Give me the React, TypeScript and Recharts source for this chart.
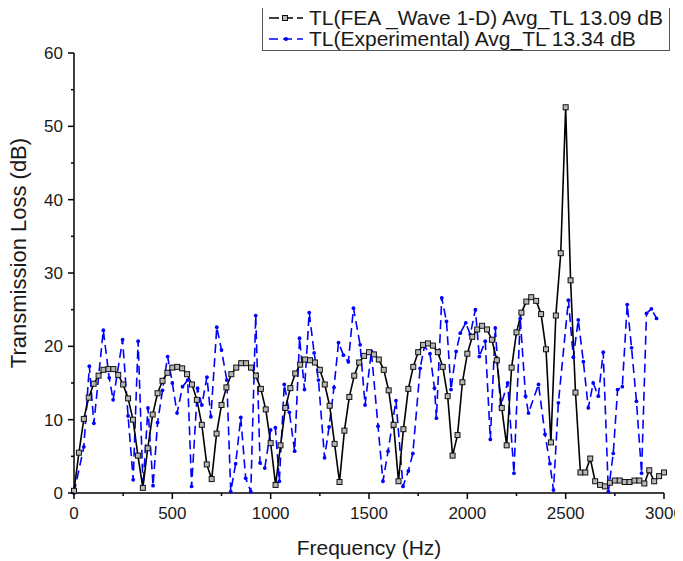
import React from 'react';
import { LineChart, Line, XAxis, YAxis, Legend, Label } from 'recharts';

// FEA (1-D wave) transmission loss, one value every 25 Hz from 0 to 3000 Hz
const feaTL = [
  0.3, 5.5, 10.1, 13.0, 14.9, 16.0, 16.8, 16.9, 16.9, 16.1, 14.8, 12.9, 10.0, 5.1, 0.7,
  6.1, 10.7, 13.6, 15.3, 16.4, 17.1, 17.2, 17.0, 16.2, 14.8, 12.7, 9.3, 3.9, 1.9,
  8.1, 12.0, 14.4, 16.2, 17.1, 17.7, 17.7, 17.1, 16.0, 14.2, 11.4, 6.8, 1.1,
  6.5, 11.6, 14.3, 16.3, 17.5, 18.2, 18.1, 17.8, 16.8, 14.8, 11.9, 6.7, 1.5,
  8.5, 13.1, 16.0, 17.8, 18.7, 19.2, 18.9, 18.2, 16.8, 14.0, 9.3, 1.6,
  8.7, 14.2, 17.2, 19.2, 20.2, 20.4, 20.1, 19.2, 17.2, 13.2, 5.1,
  7.9, 15.1, 19.0, 21.3, 22.3, 22.8, 22.3, 20.9, 18.1, 11.6, 6.5,
  17.1, 21.9, 24.6, 26.1, 26.7, 26.2, 24.4, 19.6, 6.9,
  24.2, 32.7, 52.6, 29.0, 13.7, 2.8, 2.8, 4.7, 1.6, 1.1, 0.9, 1.4, 1.7, 1.7,
  1.5, 1.5, 1.7, 1.7, 1.3, 3.1, 1.6, 2.3, 2.8,
];
const feaFreq = feaTL.map((_, i) => i * 25);

// experimental transmission loss
const expFreq = [
  0, 50, 78, 101, 149, 179, 199, 247, 275, 301, 326, 351, 376, 402, 425, 450, 476, 500,
  524, 552, 578, 598, 628, 650, 676, 696, 726, 750, 777, 797, 822, 848, 873, 899, 924,
  946, 970, 1000, 1024, 1044, 1069, 1095, 1122, 1147, 1172, 1196, 1221, 1243, 1274,
  1297, 1322, 1345, 1370, 1395, 1421, 1455, 1480, 1512, 1546, 1571, 1597, 1637, 1673,
  1700, 1723, 1760, 1782, 1810, 1833, 1843, 1870, 1894, 1917, 1943, 1964, 1992, 2015,
  2041, 2061, 2091, 2117, 2142, 2169, 2205, 2237, 2269, 2296, 2311, 2362, 2395, 2420,
  2438, 2463, 2514, 2539, 2564, 2590, 2615, 2640, 2666, 2691, 2717, 2742, 2764, 2788,
  2813, 2835, 2860, 2886, 2911, 2936, 2962,
];
const expTL = [
  0, 6.3, 17.3, 9.5, 22.2, 15.7, 12.7, 20.9, 10.5, 1.8, 20.7, 0.9, 11.6, 1.0, 9.6, 14.0, 18.6, 15.0,
  10.9, 14.5, 15.4, 0.9, 14.3, 12.0, 15.8, 10.4, 22.6, 19.5, 15.4, 0.2, 4.0, 10.3, 2.0, 0.2, 24.2,
  4.1, 3.4, 8.6, 8.9, 1.6, 14.8, 11.0, 5.7, 21.1, 14.1, 24.6, 19.1, 15.4, 4.8,
  9.0, 14.4, 20.5, 18.8, 17.9, 25.2, 20.2, 12.0, 19.3, 9.1, 1.6, 5.7, 12.6, 0.9,
  3.0, 5.4, 17.0, 20.0, 19.0, 14.3, 10.2, 26.6, 23.4, 14.1, 19.3, 21.8, 23.2, 21.6,
  25.0, 18.6, 20.7, 7.3, 22.5, 11.8, 15.0, 2.7, 23.8, 13.2, 10.9, 14.8, 8.0, 4.0,
  0.4, 12.3, 26.3, 18.5, 23.6, 17.9, 11.6, 15.0, 13.2, 19.2, 0.2, 5.4, 14.1, 14.5,
  25.7, 19.8, 12.5, 2.7, 24.5, 25.1, 23.8,
];

const xTicks = [0, 250, 500, 750, 1000, 1250, 1500, 1750, 2000, 2250, 2500, 2750, 3000];
const yTicks = [0, 5, 10, 15, 20, 25, 30, 35, 40, 45, 50, 55, 60];

const feaName = 'TL(FEA _Wave 1-D) Avg_TL 13.09 dB';
const expName = 'TL(Experimental) Avg_TL 13.34 dB';

const feaData = feaFreq.map((f, i) => ({ f, tl: feaTL[i] }));
const expData = expFreq.map((f, i) => ({ f, tl: expTL[i] }));

const FONT = '"Liberation Sans", Arial, sans-serif';
const TEXT = '#1a1a1a';

const SquareDot = (props: any) => {
  const { cx, cy, index } = props;
  if (cx == null || cy == null) return null;
  return (
    <rect key={`sq-${index}`} x={cx - 2.5} y={cy - 2.5} width={5} height={5}
      fill="#b8b8b8" stroke="#111" strokeWidth={1} />
  );
};

const BlueDot = (props: any) => {
  const { cx, cy, index } = props;
  if (cx == null || cy == null) return null;
  return <circle key={`bd-${index}`} cx={cx} cy={cy} r={1.9} fill="#0000ff" />;
};

const XTick = (props: any) => {
  const { x, y, payload } = props;
  const major = payload.value % 500 === 0;
  return (
    <g>
      <line x1={x} y1={y} x2={x} y2={y + (major ? 6 : 3)} stroke="#000" strokeWidth={1.5} />
      {major && (
        <text x={x} y={y + 26} textAnchor="middle" fontSize={17} fontFamily={FONT} fill={TEXT}>
          {payload.value}
        </text>
      )}
    </g>
  );
};

const YTick = (props: any) => {
  const { x, y, payload } = props;
  const major = payload.value % 10 === 0;
  return (
    <g>
      <line x1={x} y1={y} x2={x - (major ? 6 : 3)} y2={y} stroke="#000" strokeWidth={1.5} />
      {major && (
        <text x={x - 11} y={y + 6} textAnchor="end" fontSize={17} fontFamily={FONT} fill={TEXT}>
          {payload.value}
        </text>
      )}
    </g>
  );
};

const LegendBox = () => (
  <div
    style={{
      border: '1px solid #555',
      background: '#fff',
      fontFamily: FONT,
      fontSize: 21,
      color: TEXT,
      padding: '0 6px 1px 6px',
      lineHeight: '21px',
      whiteSpace: 'nowrap',
    }}
  >
    <div style={{ display: 'flex', alignItems: 'center', height: 21, marginTop: 1 }}>
      <svg width={34} height={20} style={{ marginRight: 6, flex: 'none' }}>
        <line x1={0} y1={10} x2={34} y2={10} stroke="#000" strokeWidth={1.6} strokeDasharray="10 4" />
        <rect x={13.5} y={7.5} width={5} height={5} fill="#b8b8b8" stroke="#111" />
      </svg>
      <span>{feaName}</span>
    </div>
    <div style={{ display: 'flex', alignItems: 'center', height: 21 }}>
      <svg width={34} height={20} style={{ marginRight: 6, flex: 'none' }}>
        <line x1={0} y1={10} x2={34} y2={10} stroke="#0000ff" strokeWidth={1.6} strokeDasharray="9 5" />
        <circle cx={17} cy={10} r={2} fill="#0000ff" />
      </svg>
      <span>{expName}</span>
    </div>
  </div>
);

export default function App() {
  return (
    <div style={{ position: 'relative', marginLeft: -8, marginTop: -8, width: 683, height: 561, background: '#fff' }}>
      <LineChart width={683} height={561} margin={{ top: 53, right: 19, bottom: 0, left: 14 }}>
        <XAxis
          xAxisId={0}
          type="number"
          dataKey="f"
          domain={[0, 3000]}
          ticks={xTicks}
          interval={0}
          tickSize={0}
          tickMargin={0}
          tickLine={false}
          tick={<XTick />}
          axisLine={{ stroke: '#000', strokeWidth: 1.5 }}
          height={68}
        >
          <Label
            content={() => (
              <text x={369} y={555} textAnchor="middle" fontSize={21} fontFamily={FONT} fill={TEXT}>
                Frequency (Hz)
              </text>
            )}
          />
        </XAxis>
        <YAxis
          yAxisId={0}
          type="number"
          domain={[0, 60]}
          ticks={yTicks}
          interval={0}
          tickSize={0}
          tickMargin={0}
          tickLine={false}
          tick={<YTick />}
          axisLine={{ stroke: '#000', strokeWidth: 1.5 }}
          width={60}
        >
          <Label
            content={() => (
              <text x={26} y={253} transform="rotate(-90 26 253)" textAnchor="middle"
                fontSize={22} fontFamily={FONT} fill={TEXT}>
                Transmission Loss (dB)
              </text>
            )}
          />
        </YAxis>
        <Legend
          layout="horizontal"
          verticalAlign="middle"
          content={<LegendBox />}
          wrapperStyle={{ top: 5, left: 262, width: 'auto', height: 'auto' }}
        />
        <Line
          data={expData}
          dataKey="tl"
          name={expName}
          type="linear"
          stroke="#0000ff"
          strokeWidth={1.6}
          strokeDasharray="9 5"
          dot={<BlueDot />}
          activeDot={false}
          isAnimationActive={false}
        />
        <Line
          data={feaData}
          dataKey="tl"
          name={feaName}
          type="linear"
          stroke="#000"
          strokeWidth={1.6}
          dot={<SquareDot />}
          activeDot={false}
          isAnimationActive={false}
        />
      </LineChart>
    </div>
  );
}
